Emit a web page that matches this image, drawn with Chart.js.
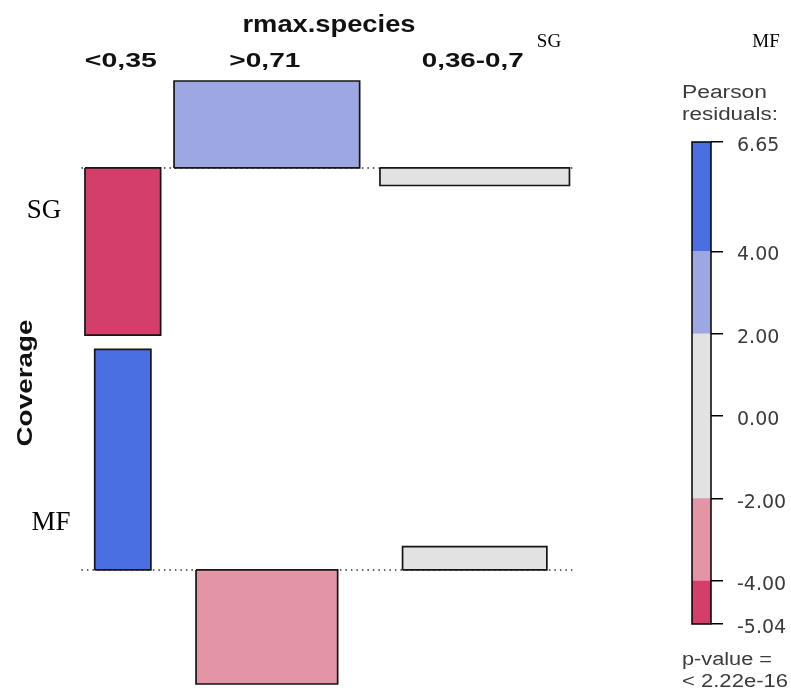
<!DOCTYPE html>
<html><head><meta charset="utf-8">
<script src="https://cdn.jsdelivr.net/npm/chart.js@4.4.0/dist/chart.umd.min.js"></script>
<style>
html,body{margin:0;padding:0;background:#fff;}
#wrap{position:relative;width:791px;height:690px;overflow:hidden;}
#main{position:absolute;left:0;top:0;}
#leg{position:absolute;left:680px;top:100px;}
</style></head><body>
<div id="wrap"><canvas id="main" width="791" height="690"></canvas><canvas id="leg" width="111" height="570"></canvas></div>
<script>
// ---- data ----
const rowVariable = "Coverage";
const colVariable = "rmax.species";
const rowLevels = ["SG", "MF"];
const colLevels = ["<0,35", ">0,71", "0,36-0,7"];
const residualsSG = [-5.04, 2.62, -0.53];   // Pearson residuals (bar heights)
const residualsMF = [6.65, -3.44, 0.70];
const expectedSG = [49.0, 294.8, 307.3];    // expected counts (bar width ~ sqrt)
const expectedMF = [27.0, 171.6, 178.2];
const legendBreaks = [-5.04, -4, -2, 2, 4, 6.65];
const legendTicks = [6.65, 4, 2, 0, -2, -4, -5.04];
const legendTitle = ["Pearson", "residuals:"];
const pValueLines = ["p-value =", "< 2.22e-16"];

// ---- layout / style ----
const colGaps = [1.24, 1.88];
const rowGap = 0.43;
function shade(r) {
  if (r > 4) return '#4A6FE3';
  if (r > 2) return '#9DA8E2';
  if (r < -4) return '#D33F6A';
  if (r < -2) return '#E495A5';
  return '#E2E2E2';
}

const residuals = [residualsSG, residualsMF];
const expected = [expectedSG, expectedMF];
const colWidths = colLevels.map((_, j) => Math.max(...expected.map(r => Math.sqrt(r[j]))));
const colCenters = [];
let acc = 0;
colWidths.forEach((w, j) => { colCenters.push(acc + w / 2); acc += w + (j < colGaps.length ? colGaps[j] : 0); });
const totalW = acc;
const rowBase = [0];
for (let i = 1; i < residuals.length; i++) {
  rowBase.push(rowBase[i - 1] + Math.min(...residuals[i - 1]) - rowGap - Math.max(...residuals[i]));
}
const yMax = rowBase[0] + Math.max(...residuals[0]);
const yMin = rowBase[rowBase.length - 1] + Math.min(...residuals[residuals.length - 1]);
const xMin = -0.46, xMax = totalW + 0.42;

const datasets = [];
residuals.forEach((row, i) => {
  row.forEach((r, j) => {
    const w = Math.sqrt(expected[i][j]);
    const l = colCenters[j] - w / 2, rr = colCenters[j] + w / 2;
    const b = rowBase[i], t = rowBase[i] + r;
    datasets.push({
      data: [{x: l, y: b}, {x: rr, y: b}, {x: rr, y: t}, {x: l, y: t}, {x: l, y: b}],
      showLine: true, fill: 'shape', backgroundColor: shade(r),
      borderColor: '#151515', borderWidth: 1.7, pointRadius: 0, tension: 0,
      borderJoinStyle: 'miter', clip: false, order: 0
    });
  });
  datasets.push({
    data: [{x: -0.33, y: rowBase[i]}, {x: xMax, y: rowBase[i]}],
    showLine: true, fill: false, borderColor: '#333', borderWidth: 1.5,
    borderDash: [1.5, 4], pointRadius: 0, clip: false, order: 10
  });
});

function stretchText(ctx, text, x, y, font, targetW, align) {
  ctx.save();
  ctx.font = font;
  const w = ctx.measureText(text).width;
  ctx.translate(x, y);
  ctx.scale(targetW / w, 1);
  ctx.textAlign = align || 'center';
  ctx.textBaseline = 'alphabetic';
  ctx.fillText(text, 0, 0);
  ctx.restore();
}

const textPlugin = {
  id: 'assocText',
  afterDraw(chart) {
    const ctx = chart.ctx;
    const xs = chart.scales.x;
    ctx.fillStyle = '#111';
    stretchText(ctx, colVariable, 329, 32, 'bold 23px "Liberation Sans", Arial, sans-serif', 173);
    const colW = [72, 71, 102];
    colLevels.forEach((c, j) => {
      stretchText(ctx, c, xs.getPixelForValue(colCenters[j]) - 2, 67, 'bold 21px "Liberation Sans", Arial, sans-serif', colW[j]);
    });
    ctx.save();
    ctx.translate(32, 383);
    ctx.rotate(-Math.PI / 2);
    stretchText(ctx, rowVariable, 0, 0, 'bold 22px "Liberation Sans", Arial, sans-serif', 127);
    ctx.restore();
    // row labels (serif)
    ctx.fillStyle = '#000';
    ctx.font = '27px "Liberation Serif", "Times New Roman", serif';
    ctx.textAlign = 'center';
    ctx.fillText(rowLevels[0], 44, 218);
    ctx.fillText(rowLevels[1], 51, 530);
    ctx.font = '19px "Liberation Serif", "Times New Roman", serif';
    ctx.fillText(rowLevels[0], 549, 47);
    ctx.fillText(rowLevels[1], 766, 47);
    // legend texts
    ctx.fillStyle = '#3b3b3b';
    const lf = '18px "Liberation Sans", Arial, sans-serif';
    stretchText(ctx, legendTitle[0], 682, 98, lf, 85, 'left');
    stretchText(ctx, legendTitle[1], 682, 120, lf, 96, 'left');
    stretchText(ctx, pValueLines[0], 682, 665, lf, 90, 'left');
    stretchText(ctx, pValueLines[1], 682, 687, lf, 106, 'left');
  }
};

new Chart(document.getElementById('main'), {
  type: 'scatter',
  data: { datasets },
  options: {
    responsive: false, animation: false, devicePixelRatio: 1,
    layout: { padding: { left: 80, right: 217, top: 81, bottom: 6 } },
    scales: {
      x: { type: 'linear', display: false, min: xMin, max: xMax },
      y: { type: 'linear', display: false, min: yMin, max: yMax }
    },
    plugins: { legend: { display: false }, tooltip: { enabled: false } }
  },
  plugins: [textPlugin]
});

// ---- legend colour bar ----
const bandData = [];
for (let k = 0; k < legendBreaks.length - 1; k++) {
  const lo = legendBreaks[k], hi = legendBreaks[k + 1];
  bandData.push({
    data: [[lo, hi]], backgroundColor: shade((lo + hi) / 2), borderWidth: 0,
    barPercentage: 1, categoryPercentage: 1, grouped: false
  });
}
const outline = {
  id: 'outline',
  afterDatasetsDraw(chart) {
    const a = chart.chartArea, ctx = chart.ctx;
    ctx.save();
    ctx.strokeStyle = '#000';
    ctx.lineWidth = 1.5;
    ctx.strokeRect(a.left, a.top, a.right - a.left, a.bottom - a.top);
    ctx.restore();
  }
};
new Chart(document.getElementById('leg'), {
  type: 'bar',
  data: { labels: [''], datasets: bandData },
  options: {
    responsive: false, animation: false, devicePixelRatio: 1,
    layout: { padding: { left: 12, right: 0, top: 42, bottom: 46 } },
    scales: {
      x: { display: false },
      y: {
        position: 'right', min: legendBreaks[0], max: legendBreaks[legendBreaks.length - 1],
        afterBuildTicks: s => { s.ticks = legendTicks.map(v => ({ value: v })); },
        afterFit: s => { s.width = 80; },
        ticks: {
          autoSkip: false, padding: 14, labelOffset: 4, color: '#3b3b3b',
          font: { family: 'DejaVu Sans', size: 19 },
          callback: v => Number(v).toFixed(2)
        },
        grid: { drawOnChartArea: false, drawTicks: true, tickLength: 12, color: '#000', lineWidth: 1.5 },
        border: { display: false }
      }
    },
    plugins: { legend: { display: false }, tooltip: { enabled: false } }
  },
  plugins: [outline]
});
</script>
</body></html>
